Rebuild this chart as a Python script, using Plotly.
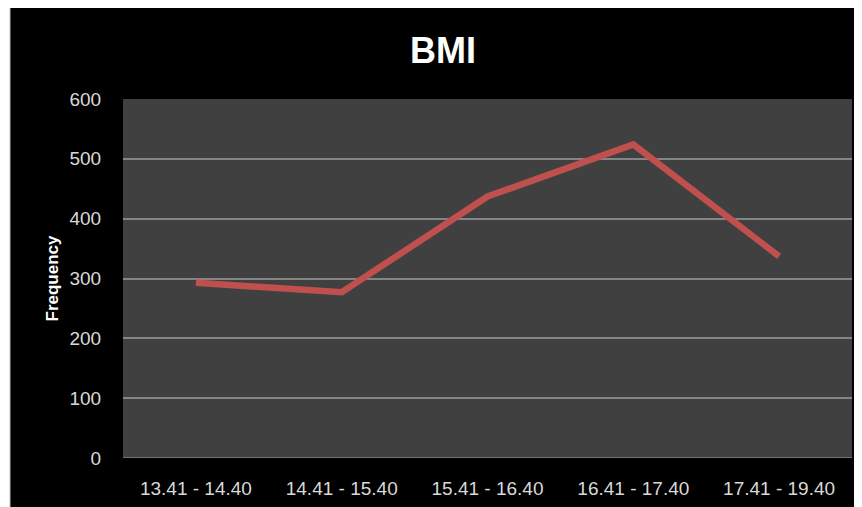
import plotly.graph_objects as go

categories = ["13.41 - 14.40", "14.41 - 15.40", "15.41 - 16.40", "16.41 - 17.40", "17.41 - 19.40"]
frequency = [293, 277, 437, 524, 337]
y_ticks = [0, 100, 200, 300, 400, 500, 600]

# the page body adds an 8px margin, so the figure is sized to fit inside it
OFF = 8
W, H = 862 - OFF, 507 - OFF
L, R, T, B = 123 - OFF, 10, 99 - OFF, 49
pw, ph = W - L - R, H - T - B

fig = go.Figure()
fig.add_trace(go.Scatter(
    x=categories, y=frequency, mode="lines",
    line=dict(color="#C0504D", width=6.5),
    hoverinfo="skip", showlegend=False,
))

font_family = "Liberation Sans, Arial, sans-serif"

fig.update_layout(
    width=W, height=H,
    margin=dict(l=L, r=R, t=T, b=B, autoexpand=False),
    paper_bgcolor="#000000",
    plot_bgcolor="#404040",
    font=dict(family=font_family, color="#D9D9D9", size=19),
    title=dict(
        text="<b>BMI</b>", x=(443 - OFF) / W, xanchor="center",
        y=1 - (50 - OFF) / H, yanchor="middle",
        font=dict(size=36, color="#FFFFFF", family=font_family),
    ),
    xaxis=dict(
        type="category", range=[-0.5, 4.5],
        showgrid=False, zeroline=False, showline=False,
        ticks="outside", ticklen=13, tickcolor="rgba(0,0,0,0)",
        tickfont=dict(size=19, color="#D9D9D9"),
    ),
    yaxis=dict(
        range=[0, 600], tickvals=y_ticks,
        showgrid=True, gridcolor="#858585", gridwidth=1.5,
        zeroline=False, showline=False,
        ticks="outside", ticklen=17, tickcolor="rgba(0,0,0,0)",
        tickfont=dict(size=19, color="#D9D9D9"),
        title=dict(text="<b>Frequency</b>", standoff=6,
                   font=dict(size=17, color="#FFFFFF", family=font_family)),
    ),
)

# 0 gridline at bottom
fig.add_shape(type="line", xref="paper", yref="y", x0=0, x1=1, y0=0, y1=0,
              line=dict(color="#858585", width=1.5), layer="below")

# thin white strip on the left of the black chart area
fig.add_shape(type="rect", xref="paper", yref="paper",
              x0=-L / pw - 0.01, x1=(2 - L) / pw, y0=-B / ph - 0.01, y1=1 + T / ph + 0.01,
              fillcolor="#FFFFFF", line=dict(width=0), layer="above")
fig.add_shape(type="line", xref="paper", yref="paper",
              x0=(2 - L) / pw, x1=(2 - L) / pw, y0=-B / ph, y1=1 + T / ph,
              line=dict(color="#BBBBBB", width=1), layer="above")

fig.write_html("out.html")
